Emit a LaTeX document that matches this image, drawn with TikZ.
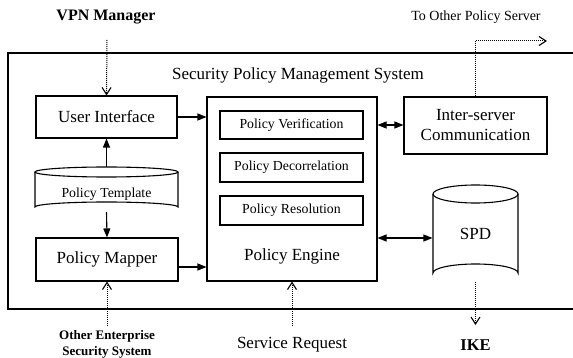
\documentclass[tikz,border=0pt]{standalone}
\usepackage{fontspec}
\setmainfont{Liberation Serif}
\usetikzlibrary{arrows.meta}
\begin{document}
\begin{tikzpicture}[x=1pt,y=-1pt,
  line width=1.1pt,
  blk/.style={draw, rectangle, inner sep=0pt, align=center},
  bigtxt/.style={font=\fontsize{17}{20}\selectfont},
  smalltxt/.style={font=\fontsize{13.8}{15}\selectfont},
  boldtxt/.style={align=center},
  flow/.style={-{Triangle[length=9pt,width=7pt]}},
  biflow/.style={{Triangle[length=9pt,width=7pt]}-{Triangle[length=9pt,width=7pt]}},
  ext/.style={densely dotted, line width=1pt, -{Straight Barb[length=7pt,width=9pt,line width=1.1pt]}}
]
\useasboundingbox (0,0) rectangle (573,358);

% system boundary, open at the right
\draw (580,53) -- (8,53) -- (8,309) -- (580,309);
\node[font=\fontsize{17}{18}\selectfont] (title) at (298,75) {Security Policy Management System};

% left column
\node[blk, bigtxt, minimum width=141pt, minimum height=42pt] (ui) at (106.5,117) {User Interface};
\node[blk, bigtxt, minimum width=142pt, minimum height=43pt] (mapper) at (107,259.5) {Policy Mapper};

% policy template store
\draw (35,172) -- (35,207) arc[start angle=180, end angle=360, x radius=71.5, y radius=5]
      -- (178,172);
\draw (106.5,172) ellipse[x radius=71.5, y radius=5];
\node[smalltxt, minimum width=143pt, minimum height=40pt, inner sep=0pt] (tmpl) at (106.5,194) {Policy Template};

% policy engine
\node[blk, minimum width=170pt, minimum height=184pt] (engine) at (292,189) {};
\node[bigtxt] (enginelbl) at (292,256) {Policy Engine};
\node[blk, smalltxt, minimum width=143pt, minimum height=28pt] (verif) at (291.5,125) {Policy Verification};
\node[blk, smalltxt, minimum width=143pt, minimum height=29pt] (decor) at (291.5,167.5) {Policy Decorrelation};
\node[blk, smalltxt, minimum width=143pt, minimum height=29pt] (resol) at (291.5,210.5) {Policy Resolution};

% inter-server communication
\node[blk, bigtxt, minimum width=143pt, minimum height=57pt] (inter) at (475.5,125.5) {Inter-server\\Communication};

% SPD store
\draw (433,194) -- (433,273) arc[start angle=180, end angle=360, x radius=42.5, y radius=9]
      -- (518,194);
\draw (475.5,194) ellipse[x radius=42.5, y radius=9];
\node[bigtxt, minimum width=85pt, minimum height=97pt, inner sep=0pt] (spd) at (475.5,234) {SPD};

% external parties
\node[boldtxt, font=\bfseries\fontsize{16}{17}\selectfont] (vpn) at (106,17) {VPN Manager};
\node[font=\fontsize{14}{15}\selectfont] (other) at (476,17) {To Other Policy Server};
\node[boldtxt, font=\bfseries\fontsize{13}{16}\selectfont] (ent) at (107,344) {Other Enterprise\\Security System};
\node[bigtxt] (svc) at (292,345) {Service Request};
\node[boldtxt, font=\bfseries\fontsize{16.5}{17}\selectfont] (ike) at (475.5,345) {IKE};

\coordinate (vpnend) at (107,40);
\coordinate (entend) at (107,326);
\coordinate (svcend) at (292,326);
\coordinate (ikeend) at (475.5,325);
\coordinate (corner) at (475.5,41);
\coordinate (otherend) at (547,41);

% internal flows
\draw[flow] (ui.east) -- (ui.east -| engine.west);
\draw[flow] (mapper.east |- 0,267) -- (engine.west |- 0,267);
\draw[flow] (106.5,167) -- (ui.south);
\draw[flow] (106.5,212) -- (mapper.north);
\draw[biflow] (engine.east |- 0,125) -- (inter.west |- 0,125);
\draw[biflow] (engine.east |- 0,238) -- (spd.west |- 0,238);

% external flows
\draw[ext] (vpnend) -- (ui.north);
\draw[ext] (entend) -- (mapper.south);
\draw[ext] (svcend) -- (engine.south);
\draw[ext] (475.5,282) -- (ikeend);
\draw[ext] (inter.north) -- (corner) -- (otherend);
\end{tikzpicture}
\end{document}
